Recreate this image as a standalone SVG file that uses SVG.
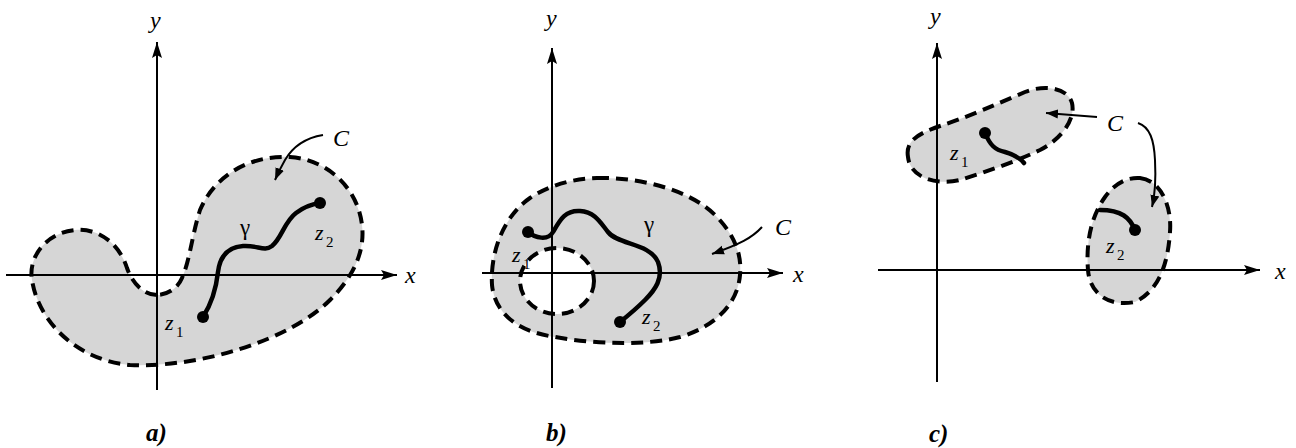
<svg xmlns="http://www.w3.org/2000/svg" width="1296" height="448" viewBox="0 0 1296 448" font-family="Liberation Serif, DejaVu Serif, serif">
<defs>
<marker id="axh" markerUnits="userSpaceOnUse" markerWidth="18" markerHeight="12" refX="16" refY="6" orient="auto">
<path d="M0,1 L16,6 L0,11 L3,6 Z" fill="#000"/>
</marker>
<marker id="cah" markerUnits="userSpaceOnUse" markerWidth="14" markerHeight="10" refX="12" refY="5" orient="auto">
<path d="M0,0.5 L12,5 L0,9.5 Z" fill="#000"/>
</marker>
</defs>
<style>
.reg{fill:#d6d6d6;stroke:#000;stroke-width:4;stroke-dasharray:12 7}
.hole{fill:#fff;stroke:#000;stroke-width:4;stroke-dasharray:12 7}
.axis{stroke:#000;stroke-width:2;fill:none;marker-end:url(#axh)}
.path{stroke:#000;stroke-width:4.5;fill:none;stroke-linecap:round}
.con{stroke:#000;stroke-width:2;fill:none;marker-end:url(#cah)}
.lbl{font-style:italic;font-size:24px}
.zl{font-style:italic;font-size:22px}
.sub{font-size:15px}
.gam{font-size:23px}
.cap{font-style:italic;font-weight:bold;font-size:25px}
</style>
<rect width="1296" height="448" fill="#fff"/>

<!-- Panel a -->
<g id="a-region">
<path class="reg" d="M157,295 C145,295 133,285 127,268 C118,240 95,228 75,230 C45,233 28,258 32,280 C38,320 75,360 130,365 C200,368 290,340 330,300 C355,275 365,250 362,225 C358,190 330,160 290,157 C250,155 215,175 200,210 C192,235 190,260 182,278 C177,290 165,295 157,295 Z"/>
</g>
<g id="a-axes">
<line class="axis" x1="6" y1="275" x2="397" y2="275"/>
<line class="axis" x1="157" y1="390" x2="157" y2="42"/>
<text class="lbl" font-family="Liberation Serif" x="405" y="283">x</text>
<text class="lbl" font-family="Liberation Serif" x="150" y="28">y</text>
</g>
<g id="a-gamma">
<path class="path" d="M203,317 C212,303 216,290 218,272 C220,256 228,247 243,246 C258,245 264,252 272,246 C282,238 284,222 296,213 C305,206 313,204 320,203"/>
<circle cx="203" cy="317" r="6"/>
<circle cx="320" cy="203" r="6"/>
<text class="gam" font-family="Liberation Serif" x="240" y="235">γ</text>
<text class="zl" font-family="Liberation Serif" x="315" y="240">z</text><text class="sub" font-family="Liberation Serif" x="326" y="247">2</text>
<text class="zl" font-family="Liberation Serif" x="165" y="330">z</text><text class="sub" font-family="Liberation Serif" x="176" y="337">1</text>
<text class="lbl" font-family="Liberation Serif" x="333" y="146">C</text>
</g>
<text id="a-cap" class="cap" font-family="Liberation Serif" x="146" y="441">a)</text>

<!-- Panel b -->
<g id="b-region">
<path class="reg" d="M597,178 C640,177 690,190 715,215 C735,235 742,255 740,275 C738,300 720,325 680,337 C650,345 600,345 555,337 C520,332 495,315 492,285 C490,250 505,215 530,198 C548,186 570,179 597,178 Z"/>
<ellipse class="hole" cx="557" cy="281" rx="37" ry="33"/>
</g>
<g id="b-axes">
<line class="axis" x1="482" y1="273" x2="783" y2="273"/>
<line class="axis" x1="552" y1="388" x2="552" y2="48"/>
<text class="lbl" font-family="Liberation Serif" x="793" y="282">x</text>
<text class="lbl" font-family="Liberation Serif" x="546" y="26">y</text>
</g>
<g id="b-gamma">
<path class="path" d="M528,232 C535,238 548,241 553,232 C560,220 565,210 580,211 C595,212 600,222 608,232 C618,245 650,243 658,262 C664,278 655,290 645,300 C635,310 625,318 620,322"/>
<circle cx="528" cy="232" r="6"/>
<circle cx="620" cy="322" r="6"/>
<text class="gam" font-family="Liberation Serif" x="644" y="232">γ</text>
<text class="zl" font-family="Liberation Serif" x="512" y="262">z</text><text class="sub" font-family="Liberation Serif" x="523" y="269">1</text>
<text class="zl" font-family="Liberation Serif" x="642" y="324">z</text><text class="sub" font-family="Liberation Serif" x="653" y="331">2</text>
<text class="lbl" font-family="Liberation Serif" x="775" y="235">C</text>
</g>
<text id="b-cap" class="cap" font-family="Liberation Serif" x="546" y="441">b)</text>

<!-- Panel c -->
<g id="c-region1">
<path class="reg" d="M908,157 C905,140 920,133 940,126 C965,118 995,105 1025,92 C1045,84 1068,88 1072,103 C1076,120 1060,140 1040,150 C1015,162 985,172 960,180 C935,186 910,177 908,157 Z"/>
</g>
<g id="c-region2">
<path class="reg" d="M1140,178 C1160,180 1172,205 1170,232 C1168,262 1160,290 1135,302 C1110,307 1090,295 1088,270 C1086,245 1090,218 1105,197 C1115,183 1128,177 1140,178 Z"/>
</g>
<g id="c-axes">
<line class="axis" x1="878" y1="270" x2="1260" y2="270"/>
<line class="axis" x1="937" y1="382" x2="937" y2="43"/>
<text class="lbl" font-family="Liberation Serif" x="1275" y="279">x</text>
<text class="lbl" font-family="Liberation Serif" x="930" y="24">y</text>
</g>
<g id="c-paths">
<path class="path" d="M985,133 C990,145 995,150 1005,152 C1015,155 1020,158 1024,163"/>
<circle cx="985" cy="133" r="6"/>
<path class="path" d="M1135,230 C1130,218 1122,210 1100,210"/>
<circle cx="1135" cy="230" r="6"/>
<text class="zl" font-family="Liberation Serif" x="950" y="160">z</text><text class="sub" font-family="Liberation Serif" x="961" y="167">1</text>
<text class="zl" font-family="Liberation Serif" x="1106" y="253">z</text><text class="sub" font-family="Liberation Serif" x="1117" y="260">2</text>
<text class="lbl" font-family="Liberation Serif" x="1107" y="131">C</text>
</g>
<text id="c-cap" class="cap" font-family="Liberation Serif" x="929" y="442">c)</text>

<g id="connectors">
<path class="con" d="M323,135 C305,138 292,148 285,160 C281,167 278,173 275,180"/>
<path class="con" d="M762,227 C752,238 740,244 712,254"/>
<path class="con" d="M1097,117 L1046,113"/>
<path class="con" d="M1138,123 C1150,127 1154,140 1155,160 C1156,180 1155,195 1152,207"/>
</g>
</svg>
